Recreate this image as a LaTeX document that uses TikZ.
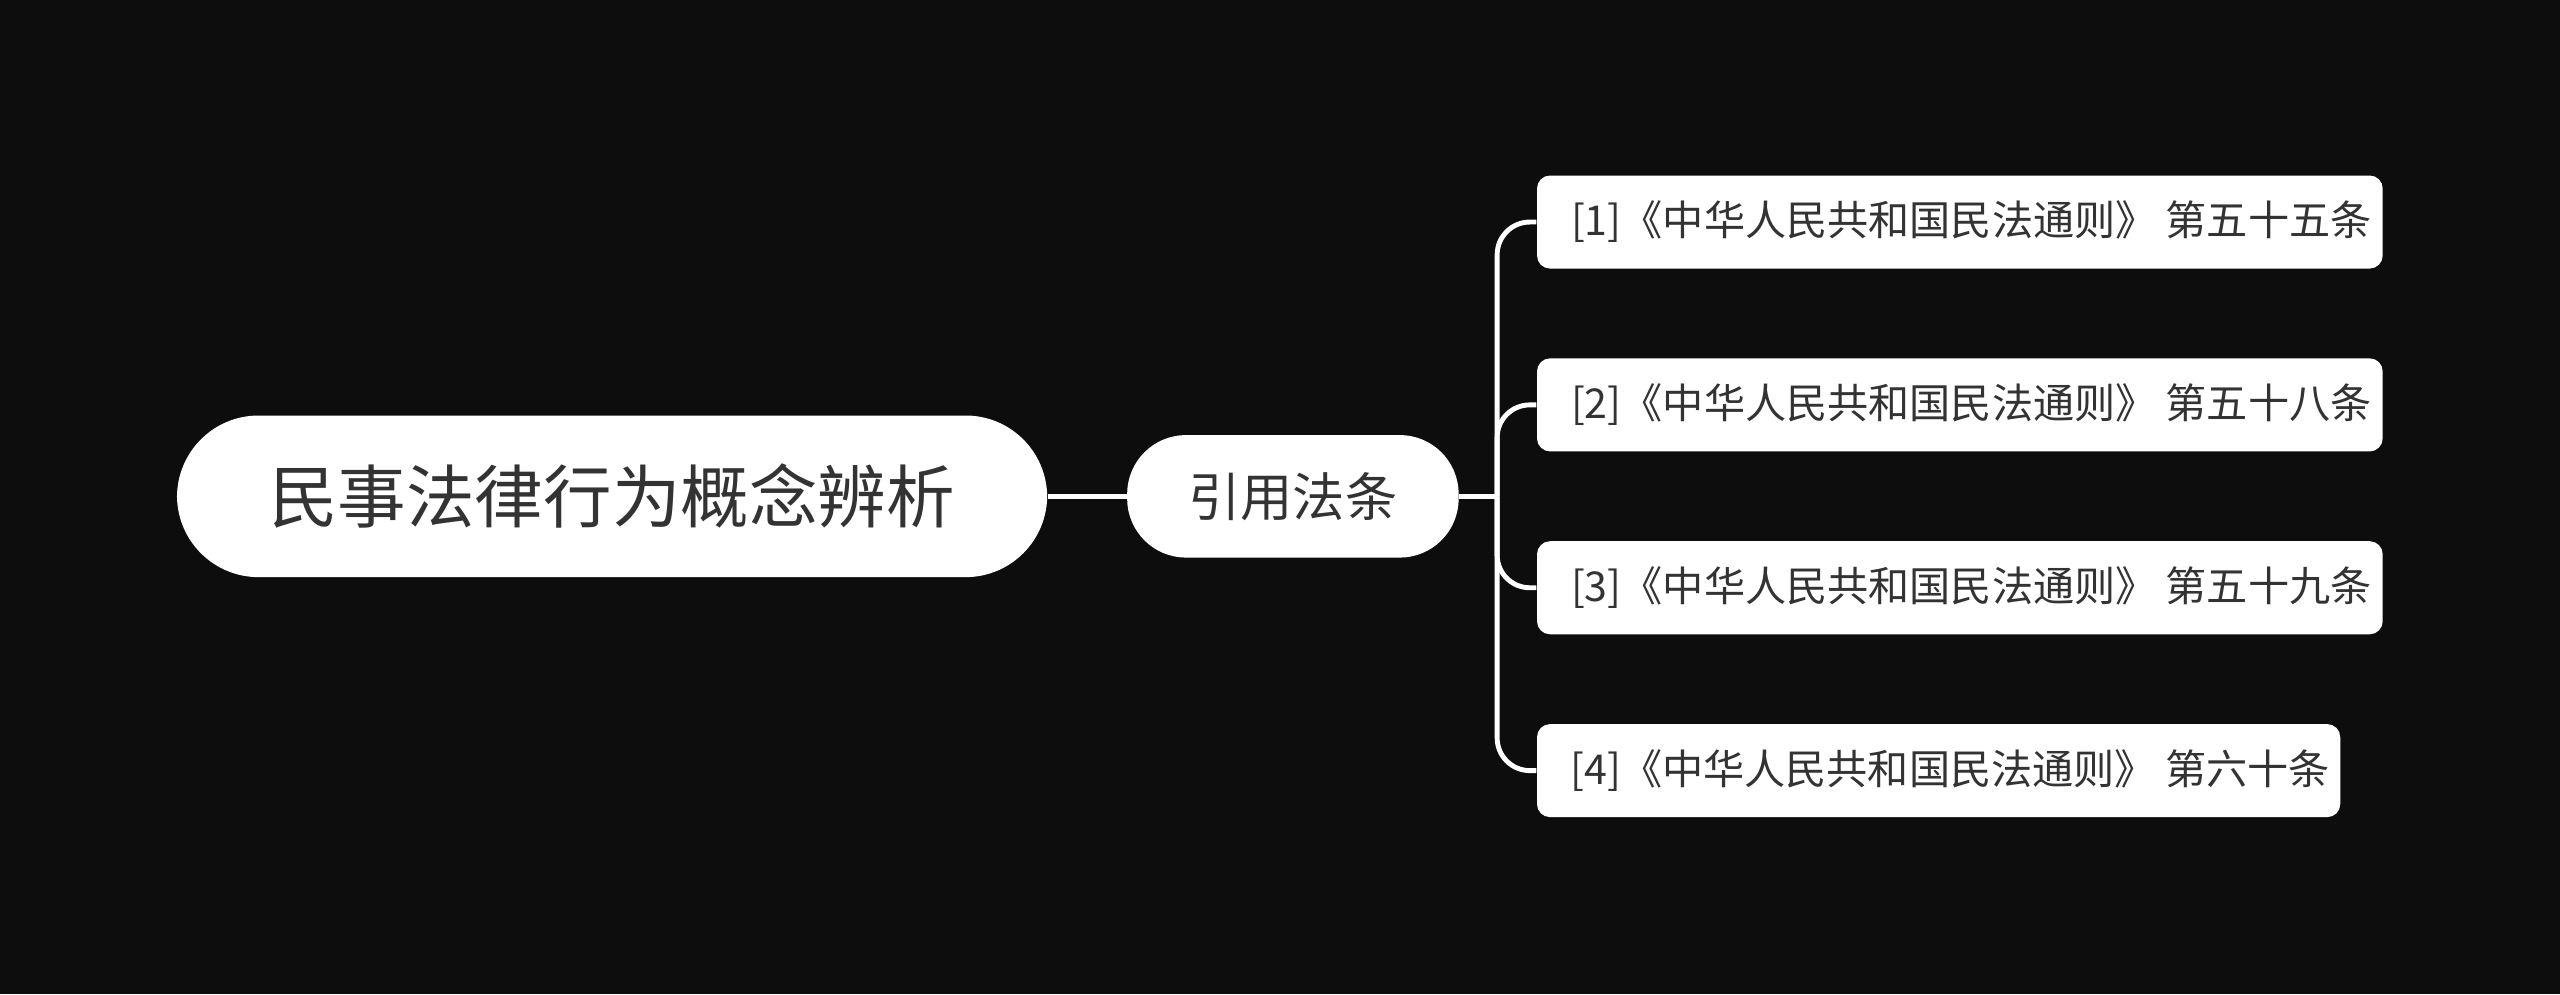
\documentclass[tikz,border=0pt]{standalone}
\usepackage{fontspec}
\setmainfont{Noto Sans CJK SC}
\begin{document}
\begin{tikzpicture}[x=0.5pt,y=-0.5pt,
  box/.style={fill=white,text=black!80,inner sep=0pt,anchor=west},
  link/.style={draw=white,line width=1.5pt}]
\fill[black!95!white] (0,0) rectangle (1568,609);
\useasboundingbox (0,0) rectangle (1568,609);
\node[box,rounded corners=25pt,minimum width=533*0.5pt,minimum height=99*0.5pt,font=\fontsize{21}{25}\selectfont] (root) at (108,304) {民事法律行为概念辨析};
\node[box,rounded corners=18pt,minimum width=203*0.5pt,minimum height=75*0.5pt,font=\fontsize{16}{19}\selectfont] (mid) at (690,304) {引用法条};
\foreach \i/\y/\t/\w in {1/136/第五十五条/518,2/248/第五十八条/518,3/360/第五十九条/518,4/472/第六十条/492}{
  \node[box,rounded corners=4pt,minimum width=\w*0.5pt,minimum height=57*0.5pt,font=\fontsize{12.6}{15}\selectfont] (l\i) at (941,\y) {\hspace{7pt}[\i]《中华人民共和国民法通则》 \t\hfill};
}
\coordinate (j) at (917,304);
\draw[link] (root.east) -- (mid.west);
\draw[link] (mid.east) -- (j);
\foreach \i in {1,2,3,4}{\draw[link,rounded corners=10pt] (j) |- (l\i.west);}
\end{tikzpicture}
\end{document}
